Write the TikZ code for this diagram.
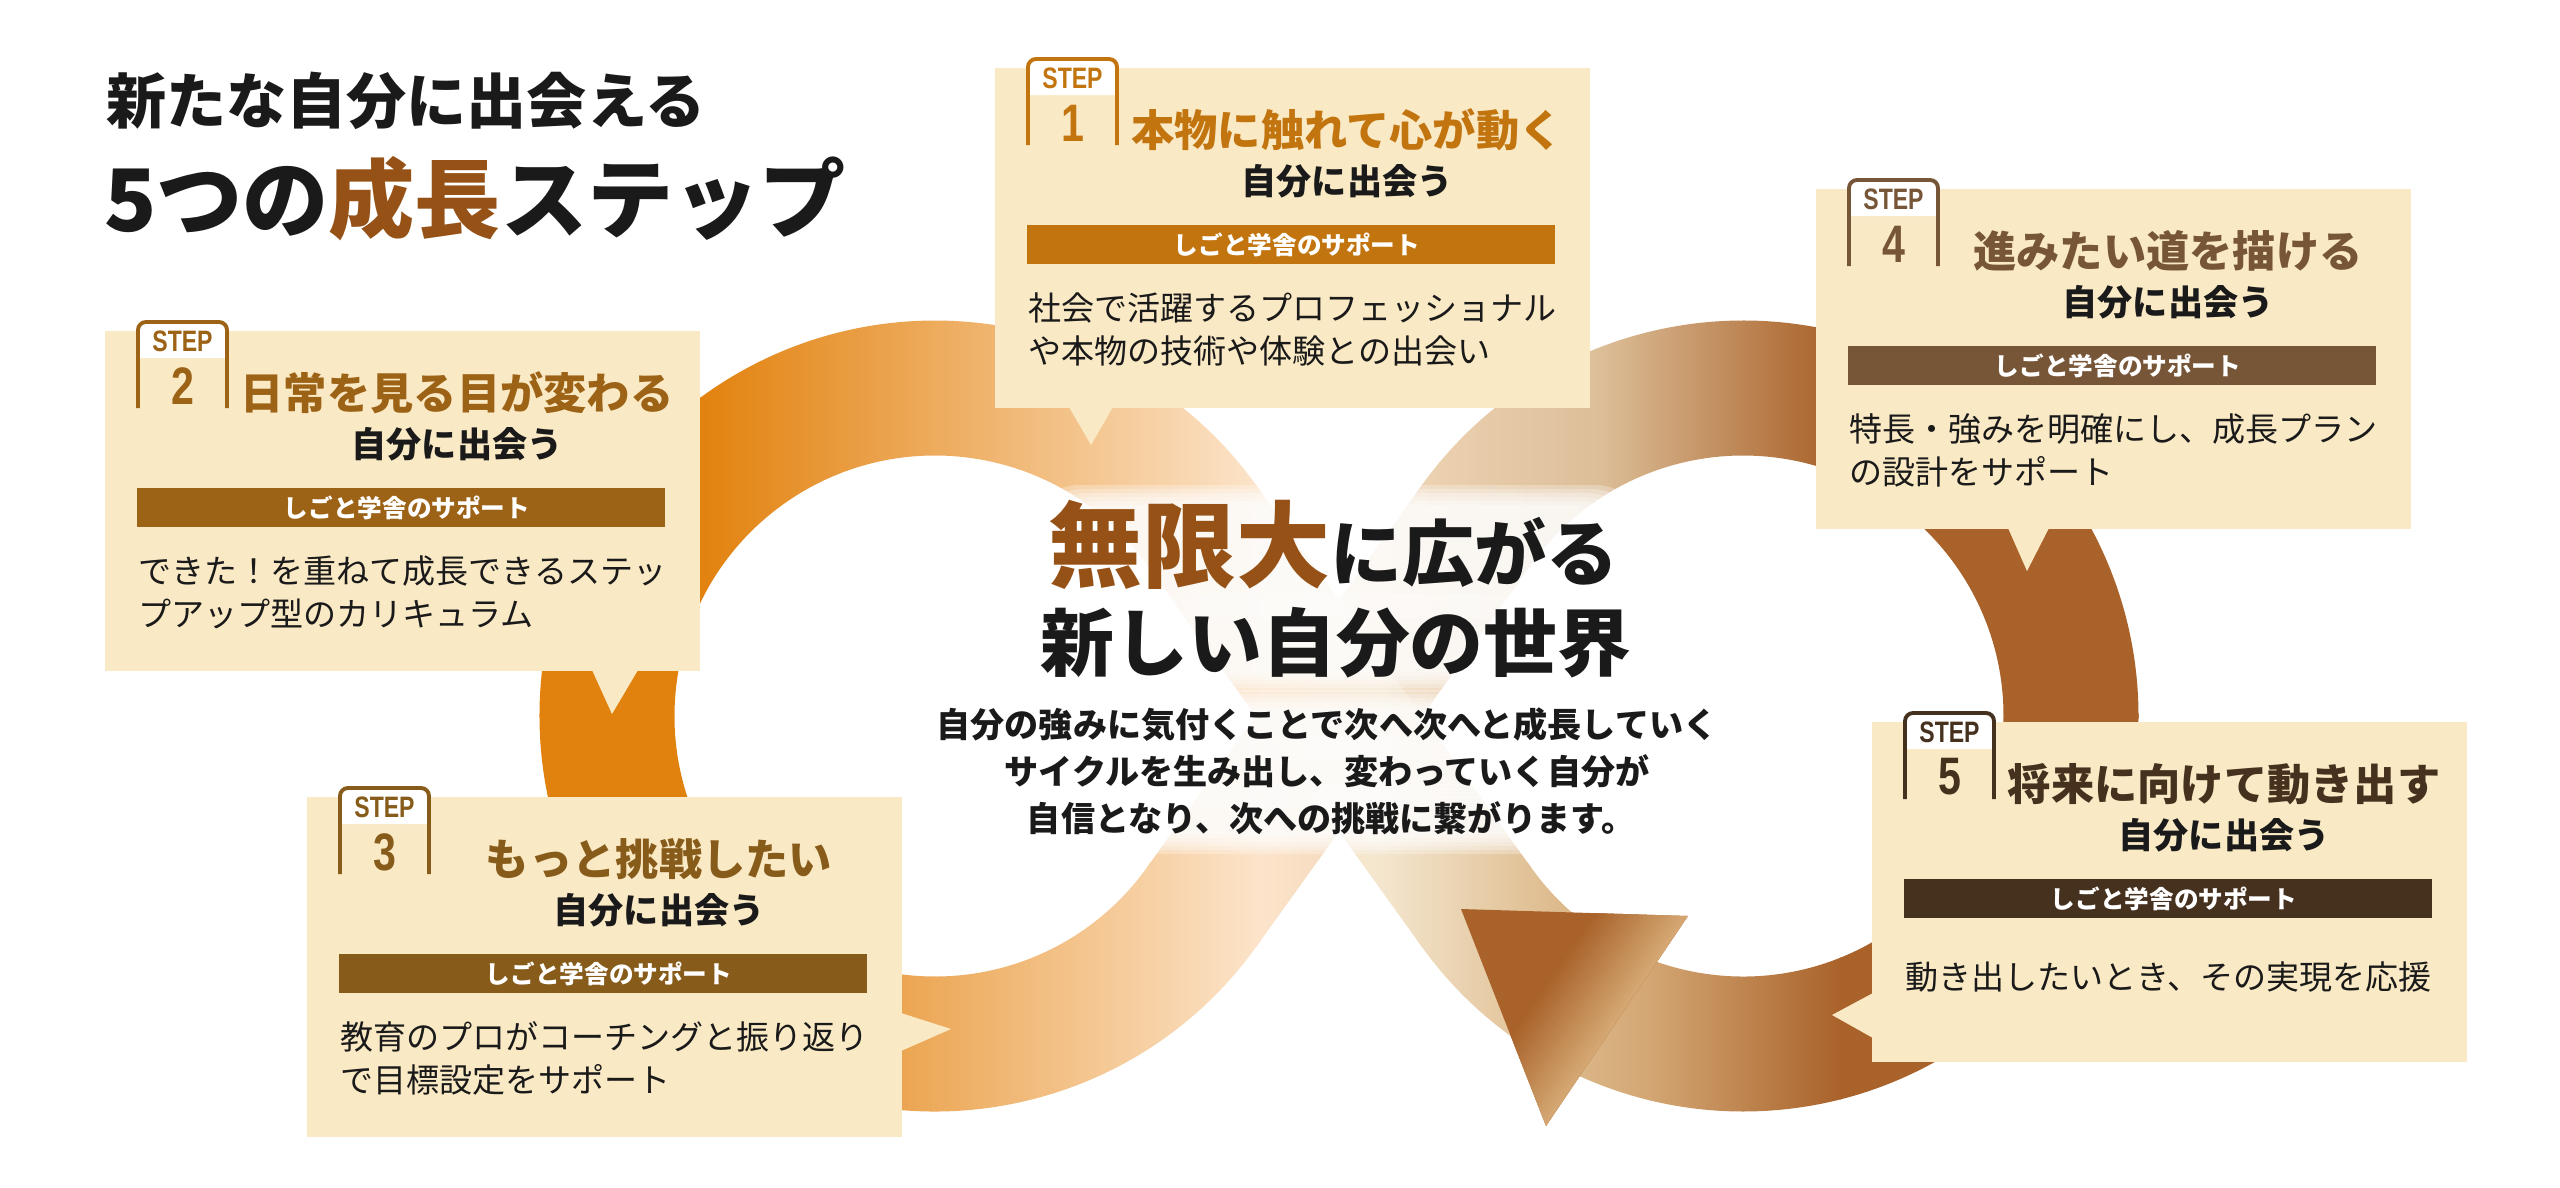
\documentclass[tikz,border=0pt]{standalone}
\usepackage{fontspec}
\setmainfont{Noto Sans CJK JP}
\newfontfamily\stepf{Liberation Sans}[FakeStretch=0.78]
\usetikzlibrary{calc}
\definecolor{boxc}{HTML}{FAE9C5}
\definecolor{sA}{HTML}{C2740F}
\definecolor{sB}{HTML}{9C6215}
\definecolor{sC}{HTML}{875B19}
\definecolor{sD}{HTML}{775638}
\definecolor{sE}{HTML}{46311F}
\definecolor{accent}{HTML}{965216}
\definecolor{txt}{HTML}{1A1A1A}
\definecolor{borange}{HTML}{E2820E}
\definecolor{bpeach}{HTML}{FCE4CA}
\definecolor{bcream}{HTML}{F4E6CE}
\definecolor{bbeige}{HTML}{DDBA8C}
\definecolor{btan}{HTML}{D3A673}
\definecolor{btantop}{HTML}{DCBE98}
\definecolor{bbrown}{HTML}{A9622A}
\definecolor{tritan}{HTML}{D4A772}
\tikzset{every node/.style={inner sep=0pt,outer sep=0pt}}
% gradients (horizontal, in picture units)
\newcommand\gradpre{%
 \fill[borange] (450,-10) rectangle (701,1200);
 \shade[left color=borange,right color=bpeach] (700,-10) rectangle (1261,1200);}
\newcommand\gradA{\gradpre\fill[bpeach] (1260,-10) rectangle (1400,1200);}
\newcommand\gradB{\gradpre
 \shade[left color=bpeach,right color=btantop] (1260,-10) rectangle (1601,1200);
 \shade[left color=btantop,right color=bbrown] (1600,-10) rectangle (1831,1200);
 \fill[bbrown] (1830,-10) rectangle (2200,1200);}
\newcommand\gradD{\gradpre
 \shade[left color=bpeach,right color=bcream] (1260,-10) rectangle (1381,1200);
 \shade[left color=bcream,right color=bbeige] (1380,-10) rectangle (1561,1200);
 \shade[left color=bbeige,right color=btan] (1560,-10) rectangle (1651,1200);
 \shade[left color=btan,right color=bbrown] (1650,-10) rectangle (1841,1200);
 \fill[bbrown] (1840,-10) rectangle (2200,1200);}
% step box: #1 bx, #2 by, #3 colour, #4 number, #5 title, #6 desc1, #7 desc2, #8 y of desc1
\newcommand\stepbox[8]{%
 \fill[boxc] (#1,#2) rectangle (#1+595,#2+340);
 \fill[white] (#1+33,#2+27) -- (#1+33,#2-1) arc[start angle=180,end angle=270,radius=8]
   -- (#1+114,#2-9) arc[start angle=270,end angle=360,radius=8] -- (#1+122,#2+27) -- cycle;
 \draw[#3,line width=1.1pt] (#1+33,#2+77) -- (#1+33,#2-1) arc[start angle=180,end angle=270,radius=8]
   -- (#1+114,#2-9) arc[start angle=270,end angle=360,radius=8] -- (#1+122,#2+77);
 \node[text=#3,font=\stepf\bfseries\fontsize{8.4}{9}\selectfont] (steplbl#4) at (#1+77.5,#2+10) {STEP};
 \node[text=#3,font=\stepf\bfseries\fontsize{15}{16}\selectfont] (stepnum#4) at (#1+77.5,#2+55) {#4};
 \node[text=#3,font=\bfseries\fontsize{12.3}{13}\selectfont] (steptitle#4) at (#1+352,#2+62) {#5};
 \node[text=txt,font=\bfseries\fontsize{10}{11}\selectfont] (stepsub#4) at (#1+352,#2+113) {自分に出会う};
 \fill[#3] (#1+32,#2+157) rectangle (#1+560,#2+196);
 \node[text=white,font=\bfseries\fontsize{7}{8}\selectfont] (stepbar#4) at (#1+302,#2+176.5) {しごと学舎のサポート};
 \node[anchor=west,text=txt,font=\fontsize{9.4}{10}\selectfont] (stepdescA#4) at (#1+33,#2+#8) {#6};
 \node[anchor=west,text=txt,font=\fontsize{9.4}{10}\selectfont] (stepdescB#4) at (#1+33,#2+#8+43) {#7};
}
% soft white halo behind a text line: #1 x1, #2 y1, #3 x2, #4 y2
\newcommand\halo[4]{%
 \foreach \hh in {0,4,8,12,16,20}{
  \fill[white,opacity=0.28,rounded corners=14] (#1-\hh,#2-\hh) rectangle (#3+\hh,#4+\hh);
 }}

\begin{document}
\begin{tikzpicture}[x=0.01cm,y=-0.01cm]
\fill[white] (0,0) rectangle (2560,1187);
\useasboundingbox (0,0) rectangle (2560,1187);
\coordinate (L) at (935,716);
\coordinate (R) at (1743,716);
\def\bandro{395.5}
\def\bandri{260.5}
% ---- left ring
\begin{scope}
 \clip ($(L)+(34.2:\bandro)$) arc[start angle=34.2,end angle=325.8,radius=\bandro]
   -- ($(L)+(325.8:\bandri)$) arc[start angle=325.8,end angle=34.2,radius=\bandri] -- cycle;
 \gradA
\end{scope}
% ---- right ring, lower half
\begin{scope}
 \clip ($(R)+(-0.5:\bandro)$) arc[start angle=-0.5,end angle=145.8,radius=\bandro]
   -- ($(R)+(145.8:\bandri)$) arc[start angle=145.8,end angle=-0.5,radius=\bandri] -- cycle;
 \gradD
\end{scope}
% ---- right ring, upper half
\begin{scope}
 \clip ($(R)+(-145.8:\bandro)$) arc[start angle=-145.8,end angle=0.5,radius=\bandro]
   -- ($(R)+(0.5:\bandri)$) arc[start angle=0.5,end angle=-145.8,radius=\bandri] -- cycle;
 \gradB
\end{scope}
% ---- arm: left bottom -> right top
\begin{scope}
 \clip ($(L)+(35.72:\bandro)$) -- ($(R)+(-144.28:\bandri)$) -- ($(R)+(-144.28:\bandro)$) -- ($(L)+(35.72:\bandri)$) -- cycle;
 \gradB
\end{scope}
% ---- arm: left top -> right bottom
\begin{scope}
 \clip ($(L)+(-35.72:\bandro)$) -- ($(R)+(144.28:\bandri)$) -- ($(R)+(144.28:\bandro)$) -- ($(L)+(-35.72:\bandri)$) -- cycle;
 \gradD
\end{scope}
% ---- arrow head
\begin{scope}
 \clip (1461,909) -- (1688,916) -- (1546,1126) -- cycle;
 \fill[bbrown] (1400,850) rectangle (1750,1150);
 \foreach \i in {0,...,19}{
  \pgfmathsetmacro\ta{\i*81.2/20}
  \pgfmathsetmacro\tb{(\i+1)*81.2/20+1.5}
  \pgfmathsetmacro\pc{\i*100/19}
  \fill[tritan!\pc!bbrown] ({1523+\ta*0.828-300*0.56},{1015+\ta*0.56+300*0.828})
    -- ({1523+\ta*0.828+300*0.56},{1015+\ta*0.56-300*0.828})
    -- ({1523+\tb*0.828+300*0.56},{1015+\tb*0.56-300*0.828})
    -- ({1523+\tb*0.828-300*0.56},{1015+\tb*0.56+300*0.828}) -- cycle;
 }
\end{scope}
% ---- boxes with pointers
\fill[boxc] (995+74,68+339) -- (995+96,68+377) -- (995+118,68+339) -- cycle;
\fill[boxc] (105+487,331+339) -- (105+507,331+383) -- (105+533,331+339) -- cycle;
\fill[boxc] (307+594,797+216) -- (307+644,797+232) -- (307+594,797+254) -- cycle;
\fill[boxc] (1816+192,189+339) -- (1816+211,189+382) -- (1816+233,189+339) -- cycle;
\fill[boxc] (1872+1,722+271) -- (1872-40,722+293) -- (1872+1,722+316) -- cycle;
\stepbox{995}{68}{sA}{1}{本物に触れて心が動く}{社会で活躍するプロフェッショナル}{や本物の技術や体験との出会い}{240}
\stepbox{105}{331}{sB}{2}{日常を見る目が変わる}{できた！を重ねて成長できるステッ}{プアップ型のカリキュラム}{240}
\stepbox{307}{797}{sC}{3}{もっと挑戦したい}{教育のプロがコーチングと振り返り}{で目標設定をサポート}{240}
\stepbox{1816}{189}{sD}{4}{進みたい道を描ける}{特長・強みを明確にし、成長プラン}{の設計をサポート}{240}
\stepbox{1872}{722}{sE}{5}{将来に向けて動き出す}{動き出したいとき、その実現を応援}{}{255}
% ---- main title
\node[anchor=west,text=txt,font=\bfseries\fontsize{17.1}{18}\selectfont] (title1) at (106,101) {新たな自分に出会える};
\node[anchor=west,text=txt,font=\bfseries\fontsize{24.5}{25}\selectfont] (title2) at (104,199) {5つの{\color{accent}成長}ステップ};
% ---- centre text with soft halo
\halo{1050}{505}{1625}{598}
\halo{1050}{614}{1625}{672}
\halo{936}{710}{1712}{740}
\halo{1006}{757}{1648}{787}
\halo{1032}{804}{1636}{834}
\node[anchor=base] (centerA) at (1334,580) {{\fontsize{26.7}{27}\selectfont\bfseries\color{accent}無限大}{\fontsize{20.5}{21}\selectfont\bfseries\color{txt}に広がる}};
\node[anchor=base,text=txt,font=\bfseries\fontsize{21}{22}\selectfont] (centerB) at (1336,670) {新しい自分の世界};
\node[anchor=base,text=txt,font=\bfseries\fontsize{9.7}{10}\selectfont] (paraA) at (1327,737) {自分の強みに気付くことで次へ次へと成長していく};
\node[anchor=base,text=txt,font=\bfseries\fontsize{9.7}{10}\selectfont] (paraB) at (1327,784) {サイクルを生み出し、変わっていく自分が};
\node[anchor=base,text=txt,font=\bfseries\fontsize{9.7}{10}\selectfont] (paraC) at (1331,831) {自信となり、次への挑戦に繋がります。};
\end{tikzpicture}
\end{document}
